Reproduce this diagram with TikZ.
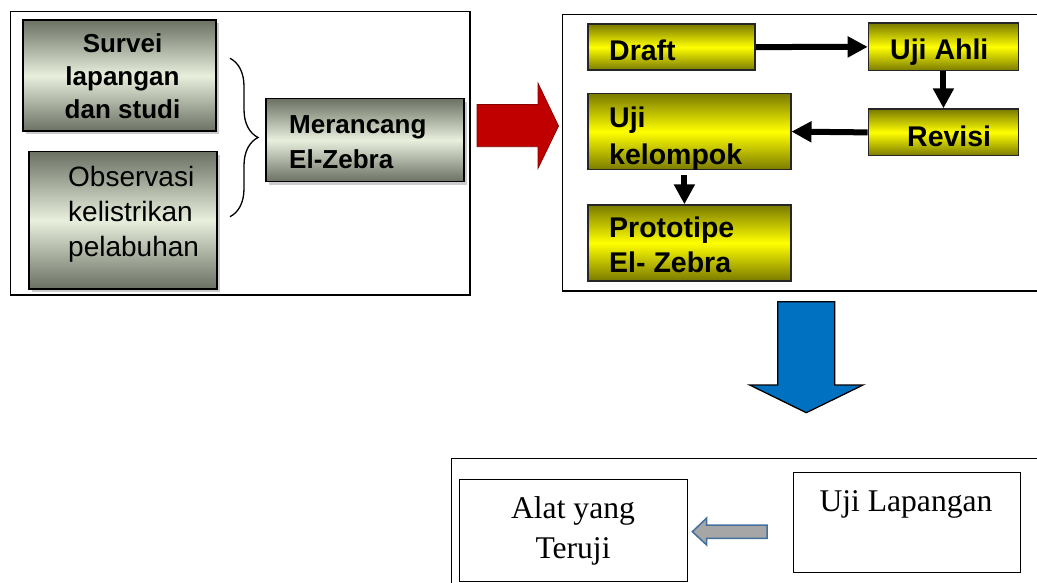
\documentclass[tikz,border=0pt]{standalone}
\usepackage{fontspec}
\setmainfont{Liberation Serif}
\setsansfont{Liberation Sans}
\usetikzlibrary{arrows.meta,decorations.pathreplacing,shadows}
\definecolor{gdark}{HTML}{6B7163}
\definecolor{glight}{HTML}{E9EFDD}
\definecolor{ydark}{HTML}{7A7A00}
\definecolor{ylight}{HTML}{FFFF00}
\definecolor{merah}{HTML}{C00000}
\definecolor{biru}{HTML}{0070C0}
\definecolor{abu}{HTML}{A6A6A6}
\definecolor{garis}{HTML}{41719C}
\begin{document}
\begin{tikzpicture}[x=1pt,y=-1pt,
  gbox/.style={draw=black,line width=1.8pt,anchor=north west,inner sep=0pt,top color=gdark,bottom color=gdark,middle color=glight,drop shadow={shadow xshift=3pt,shadow yshift=-3pt,fill=black!40}},
  ybox/.style={draw=black!85,line width=1.5pt,anchor=north west,inner sep=0pt,top color=ydark,bottom color=ydark,middle color=ylight},
  wbox/.style={draw,line width=0.9pt,anchor=north west,inner sep=0pt},
  gtxt/.style={font=\sffamily\bfseries\fontsize{26}{34}\selectfont,inner sep=0pt},
  ytxt/.style={font=\sffamily\bfseries\fontsize{28.5}{36}\selectfont,inner sep=0pt,anchor=base west,align=left},
  wtxt/.style={font=\fontsize{31.6}{40}\selectfont,inner sep=0pt,anchor=base,align=center},
  panah/.style={line width=6pt,-{Triangle[width=20pt,length=20pt]}}]
    \useasboundingbox (0,0) rectangle (1037,583);
    %% kotak kiri
    \draw[line width=1.3pt] (10.7,11.7) rectangle (470,295);
    \node[gbox,minimum width=193pt,minimum height=111pt] (survei) at (21.7,19.3) {};
    \node[gtxt,anchor=base,align=center,font=\sffamily\bfseries\fontsize{26}{33}\selectfont] (tsurvei) at (122.5,119) {Survei\\lapangan\\dan studi};
    \node[gbox,minimum width=188pt,minimum height=137pt] (obs) at (28.3,150.7) {};
    \node[anchor=base west,align=left,inner sep=0pt,font=\sffamily\fontsize{28}{35}\selectfont] (tobs) at (68,256.7) {Observasi\\kelistrikan\\pelabuhan};
    \draw[line width=1.3pt,decorate,decoration={brace,amplitude=28pt}] (230,58.3) -- (230,216.7);
    \node[gbox,minimum width=198pt,minimum height=83pt] (rancang) at (265,97.7) {};
    \node[gtxt,anchor=base west,align=left,font=\sffamily\bfseries\fontsize{26}{35}\selectfont] (trancang) at (289,168.3) {Merancang\\El-Zebra};
    % panah merah
    \fill[merah,draw=merah!70!black,line width=0.8pt] (477,104.5) -- (538,104.5) -- (538,83.3) -- (558.5,126) -- (538,168.3) -- (538,146.7) -- (477,146.7) -- cycle;
    %% kotak kanan
    \draw[line width=1.3pt] (562.7,14.3) rectangle (1045,291);
    \node[ybox,minimum width=167pt,minimum height=46pt] (draft) at (587.3,23.3) {}; \node[ytxt] (tdraft) at (609,60.7) {Draft};
    \node[ybox,minimum width=150pt,minimum height=47.7pt] (ahli) at (867.7,22.3) {}; \node[ytxt] (tahli) at (890,60) {Uji Ahli};
    \node[ybox,minimum width=150pt,minimum height=46.7pt] (revisi) at (867.7,108.3) {}; \node[ytxt] (trevisi) at (907,146.7) {Revisi};
    \node[ybox,minimum width=202.7pt,minimum height=76.3pt] (kel) at (587.3,92.7) {};
    \begin{scope}
      \clip (kel.south west) rectangle (kel.north east);
      \node[ytxt,font=\sffamily\bfseries\fontsize{28.5}{37}\selectfont] (tkel) at (609,165) {Uji\\kelompok};
    \end{scope}
    \node[ybox,minimum width=202.7pt,minimum height=75.7pt] (proto) at (587.3,204.3) {};
    \node[ytxt,font=\sffamily\bfseries\fontsize{28.5}{35}\selectfont] (tproto) at (609,272.7) {Prototipe\\El- Zebra};
    \draw[panah] (draft.east) -- (ahli.west);
    \draw[panah] (ahli.south) -- (revisi.north);
    \draw[panah] (revisi.west) -- (kel.east);
    \draw[panah] ([xshift=-5pt,yshift=-5pt]kel.south) -- ([xshift=-5pt]proto.north);
    % panah biru
    \fill[biru,draw=black,line width=1.3pt] (777.7,301.7) -- (834.7,301.7) -- (834.7,385) -- (863,385) -- (806.3,412.7) -- (749.7,385) -- (777.7,385) -- cycle;
    %% kotak bawah
    \draw[line width=1pt] (451,458.3) rectangle (1045,595);
    \node[wbox,minimum width=228.3pt,minimum height=101.7pt] (alat) at (459,479.3) {}; \node[wtxt] (talat) at (573,558) {Alat yang\\Teruji};
    \node[wbox,minimum width=226.7pt,minimum height=100pt] (lapangan) at (793,471.7) {}; \node[wtxt] (tlapangan) at (906,511.7) {Uji Lapangan};
    \fill[abu,draw=garis,line width=1.5pt] (767,525) -- (706.7,525) -- (706.7,518) -- (692.3,531.7) -- (706.7,545) -- (706.7,538.3) -- (767,538.3) -- cycle;
\end{tikzpicture}
\end{document}
